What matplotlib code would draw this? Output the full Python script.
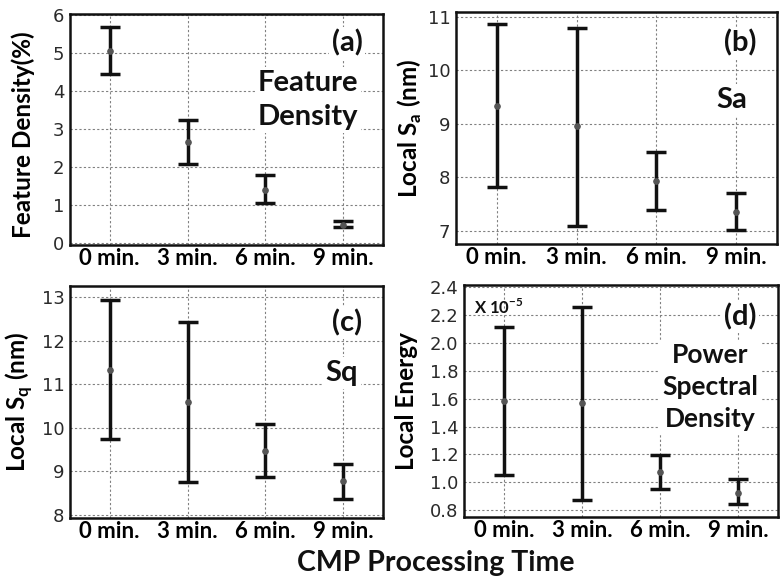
import matplotlib
matplotlib.use("Agg")
import matplotlib.pyplot as plt
import numpy as np

times = ["0 min.", "3 min.", "6 min.", "9 min."]

fd_mean = [5.05, 2.65, 1.40, 0.48]
fd_low = [4.45, 2.08, 1.05, 0.42]
fd_high = [5.68, 3.25, 1.80, 0.57]

sa_mean = [9.33, 8.96, 7.93, 7.35]
sa_low = [7.81, 7.09, 7.39, 7.02]
sa_high = [10.86, 10.80, 8.48, 7.70]

sq_mean = [11.33, 10.59, 9.46, 8.77]
sq_low = [9.75, 8.76, 8.88, 8.37]
sq_high = [12.94, 12.43, 10.08, 9.18]

pe_mean = [1.58, 1.57, 1.075, 0.925]
pe_low = [1.05, 0.872, 0.95, 0.843]
pe_high = [2.113, 2.26, 1.197, 1.02]

BOLD = "Lato"

fig = plt.figure(figsize=(7.8, 5.84), dpi=100)
W, H = 780, 584

def ax_at(l, t, r, b):
    return fig.add_axes([l / W, (H - b) / H, (r - l) / W, (b - t) / H])

panels = [
    (ax_at(70, 14, 383, 245), fd_mean, fd_low, fd_high, (-0.05, 6.03), [0, 1, 2, 3, 4, 5, 6], None,
     "Feature Density(%)", (-0.112, 0.478)),
    (ax_at(456, 12, 777, 244), sa_mean, sa_low, sa_high, (6.75, 11.09), [7, 8, 9, 10, 11], None,
     r"Local S$_\mathregular{a}$ (nm)", (-0.100, 0.5)),
    (ax_at(70, 286, 383, 518), sq_mean, sq_low, sq_high, (7.93, 13.26), [8, 9, 10, 11, 12, 13], None,
     r"Local S$_\mathregular{q}$ (nm)", (-0.112, 0.5)),
    (ax_at(464, 285, 778, 517), pe_mean, pe_low, pe_high, (0.75, 2.417),
     [0.8, 1.0, 1.2, 1.4, 1.6, 1.8, 2.0, 2.2, 2.4], "{:.1f}", "Local Energy", (-0.145, 0.5)),
]

x = np.arange(len(times))
for ax, m, lo, hi, ylim, yt, fmt, ylab, lc in panels:
    m = np.array(m); lo = np.array(lo); hi = np.array(hi)
    ax.errorbar(x, m, yerr=[m - lo, hi - m], fmt='o', color='black', ms=3.8,
                mfc='#555555', mec='#555555', ecolor='#111111', elinewidth=2.5,
                capsize=7.5, capthick=2.5, zorder=5)
    ax.set_xlim(-0.51, 3.51)
    ax.set_ylim(*ylim)
    ax.set_xticks(x)
    ax.set_xticklabels(times, fontfamily=BOLD, fontweight='bold', fontsize=16)
    ax.set_yticks(yt)
    if fmt:
        ax.set_yticklabels([fmt.format(v) for v in yt])
    else:
        ax.set_yticklabels([str(v) for v in yt])
    for lab in ax.get_yticklabels():
        lab.set_fontsize(13)
        lab.set_color('#2a2a2a')
    ax.tick_params(axis='x', length=0, pad=2)
    ax.tick_params(axis='y', length=0, pad=4)
    ax.grid(True, color='#808080', linestyle=(0, (2, 2)), linewidth=0.8)
    ax.set_axisbelow(True)
    for s in ax.spines.values():
        s.set_linewidth(1.8)
        s.set_color('#111111')
    ax.set_ylabel(ylab, fontfamily=BOLD, fontweight='bold', fontsize=17.5)
    ax.yaxis.set_label_coords(*lc)

def ftext(xp, yp, s, size, **kw):
    fig.text(xp / W, 1 - yp / H, s, fontfamily=BOLD, fontweight='bold', fontsize=size,
             color='#111111', ha='center', va='center', **kw)

box = dict(facecolor='white', edgecolor='none', pad=2)
ftext(347, 43, "(a)", 21, bbox=box)
ftext(308, 100, "Feature\nDensity", 21, linespacing=1.42, bbox=box)
ftext(740, 43, "(b)", 21, bbox=box)
ftext(732, 100, "Sa", 21, bbox=box)
ftext(347, 323, "(c)", 21, bbox=box)
ftext(342, 373, "Sq", 21, bbox=box)
ftext(740, 317, "(d)", 21, bbox=box)
ftext(710, 387, "Power\nSpectral\nDensity", 19, linespacing=1.42, bbox=box)
fig.text(474 / W, 1 - 307 / H, r"X 10$^{\mathregular{-5}}$", fontfamily=BOLD, fontweight='bold',
         fontsize=12, color='#111111', ha='left', va='center')

ftext(436, 563, "CMP Processing Time", 20.5)

fig.savefig("out.png", dpi=100)
